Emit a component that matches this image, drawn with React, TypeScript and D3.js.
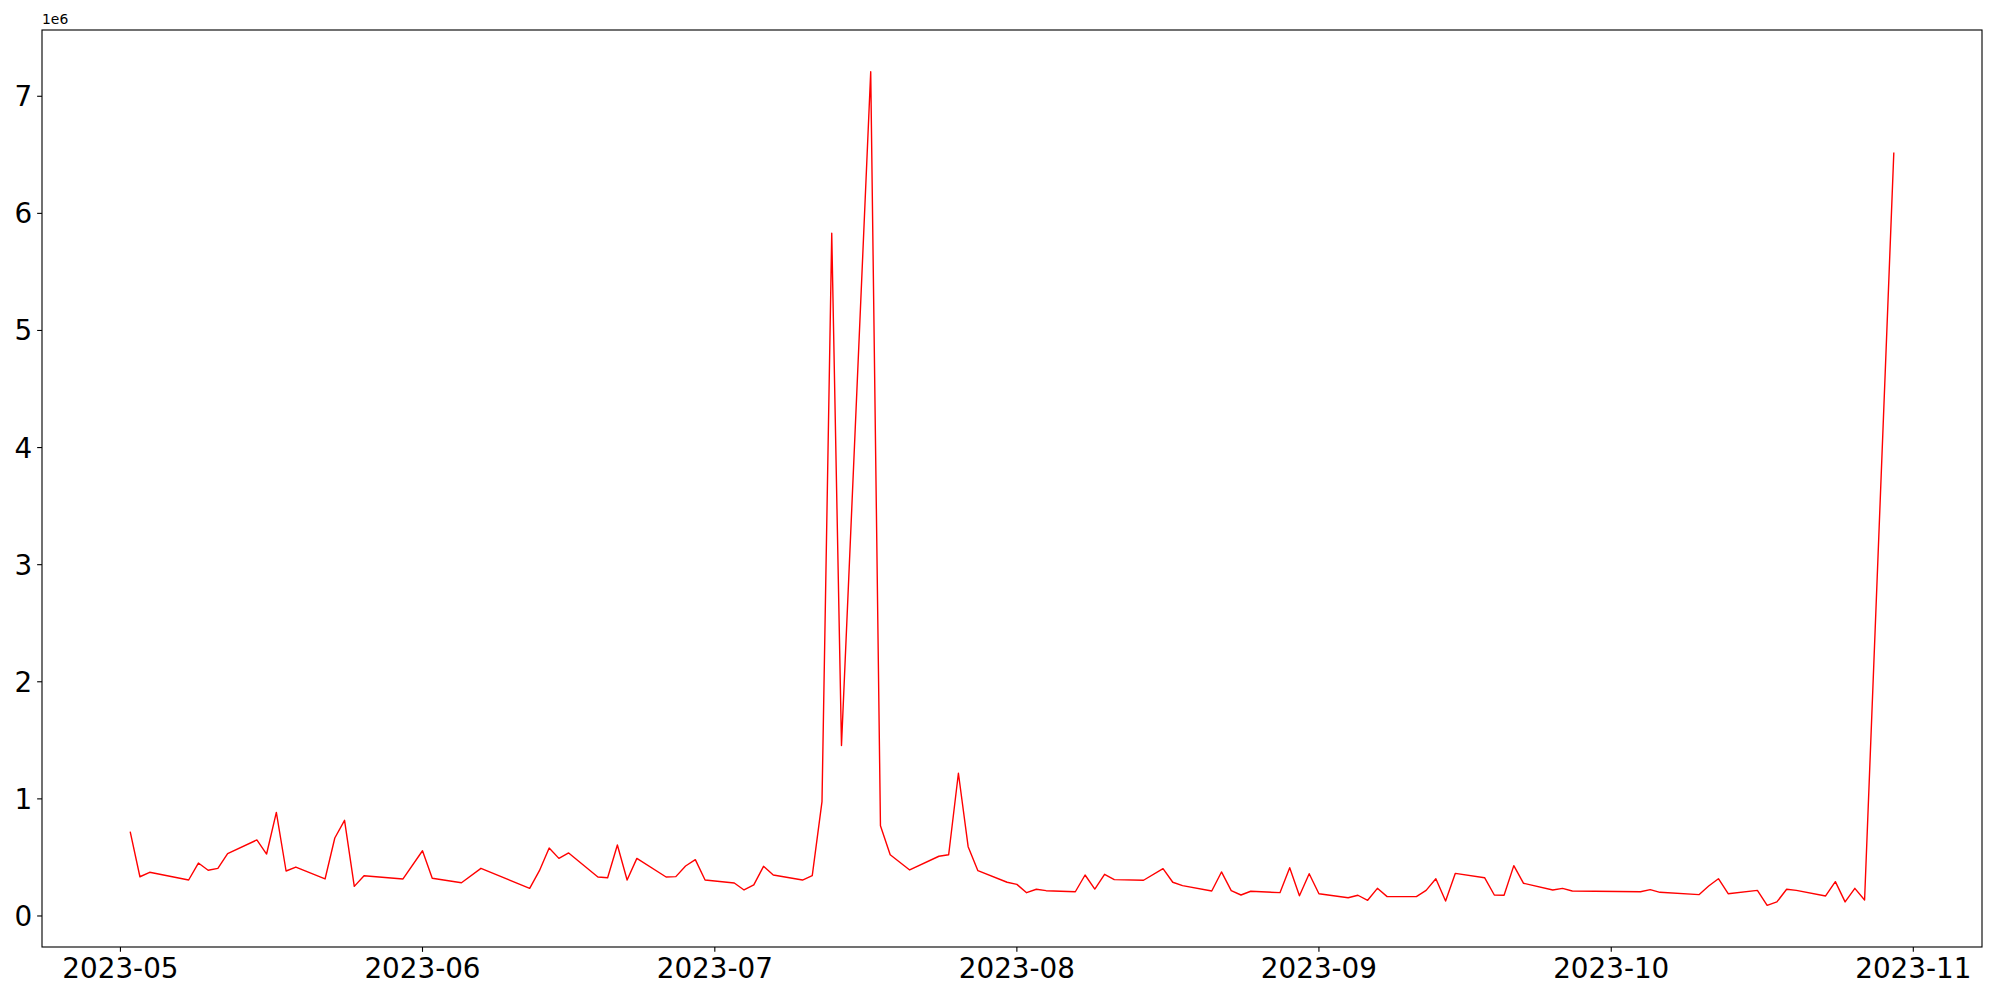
import React from "react";
import * as d3 from "d3";

const dates: string[] = [
  "2023-05-02","2023-05-03","2023-05-04","2023-05-08","2023-05-09","2023-05-10","2023-05-11","2023-05-12",
  "2023-05-15","2023-05-16","2023-05-17","2023-05-18","2023-05-19","2023-05-22","2023-05-23","2023-05-24",
  "2023-05-25","2023-05-26","2023-05-30","2023-06-01","2023-06-02","2023-06-05","2023-06-07","2023-06-12",
  "2023-06-13","2023-06-14","2023-06-15","2023-06-16","2023-06-19","2023-06-20","2023-06-21","2023-06-22",
  "2023-06-23","2023-06-26","2023-06-27","2023-06-28","2023-06-29","2023-06-30","2023-07-03","2023-07-04",
  "2023-07-05","2023-07-06","2023-07-07","2023-07-10","2023-07-11","2023-07-12","2023-07-13","2023-07-14",
  "2023-07-17","2023-07-18","2023-07-19","2023-07-21","2023-07-24","2023-07-25","2023-07-26","2023-07-27",
  "2023-07-28","2023-07-31","2023-08-01","2023-08-02","2023-08-03","2023-08-04","2023-08-07","2023-08-08",
  "2023-08-09","2023-08-10","2023-08-11","2023-08-14","2023-08-16","2023-08-17","2023-08-18","2023-08-21",
  "2023-08-22","2023-08-23","2023-08-24","2023-08-25","2023-08-28","2023-08-29","2023-08-30","2023-08-31",
  "2023-09-01","2023-09-04","2023-09-05","2023-09-06","2023-09-07","2023-09-08","2023-09-11","2023-09-12",
  "2023-09-13","2023-09-14","2023-09-15","2023-09-18","2023-09-19","2023-09-20","2023-09-21","2023-09-22",
  "2023-09-25","2023-09-26","2023-09-27","2023-10-04","2023-10-05","2023-10-06","2023-10-10","2023-10-11",
  "2023-10-12","2023-10-13","2023-10-16","2023-10-17","2023-10-18","2023-10-19","2023-10-20","2023-10-23",
  "2023-10-24","2023-10-25","2023-10-26","2023-10-27","2023-10-30",
];

// values in units of 1e6
const values: number[] = [
  0.72,0.335,0.373,0.307,0.452,0.39,0.407,0.532,
  0.649,0.529,0.885,0.384,0.418,0.316,0.666,0.817,
  0.253,0.344,0.316,0.557,0.322,0.284,0.407,0.236,
  0.387,0.58,0.492,0.538,0.333,0.327,0.606,0.307,
  0.492,0.333,0.336,0.427,0.481,0.307,0.282,0.222,
  0.265,0.424,0.35,0.307,0.344,0.976,5.83,1.455,
  7.21,0.771,0.523,0.393,0.51,0.523,1.219,0.592,
  0.387,0.288,0.27,0.199,0.228,0.216,0.207,0.35,
  0.23,0.356,0.31,0.305,0.404,0.288,0.259,0.213,
  0.376,0.216,0.179,0.211,0.199,0.412,0.173,0.361,
  0.19,0.156,0.177,0.134,0.236,0.165,0.165,0.219,
  0.318,0.128,0.364,0.327,0.179,0.177,0.43,0.279,
  0.222,0.236,0.213,0.207,0.225,0.202,0.182,0.256,
  0.318,0.19,0.219,0.091,0.12,0.228,0.219,0.171,
  0.293,0.12,0.236,0.137,6.52,
];

const yTicks: number[] = [0, 1, 2, 3, 4, 5, 6, 7];
const xTickLabels: string[] = ["2023-05","2023-06","2023-07","2023-08","2023-09","2023-10","2023-11"];

const W = 2000, H = 1000;
const L = 42, R = 1982, T = 30, B = 947;
const FONT = "DejaVu Sans, sans-serif";

export default function App() {
  const parse = d3.utcParse("%Y-%m-%d");
  const parseM = d3.utcParse("%Y-%m");
  const pts = dates.map((d, i) => ({ t: parse(d) as Date, v: values[i] * 1e6 }));
  const [t0, t1] = d3.extent(pts, (p) => p.t) as [Date, Date];
  const span = +t1 - +t0;
  const x = d3.scaleUtc().domain([new Date(+t0 - 0.05 * span), new Date(+t1 + 0.05 * span)]).range([L, R]);
  const [v0, v1] = d3.extent(pts, (p) => p.v) as [number, number];
  const vr = v1 - v0;
  const y = d3.scaleLinear().domain([v0 - 0.05 * vr, v1 + 0.05 * vr]).range([B, T]);
  const line = d3.line<{ t: Date; v: number }>().x((p) => x(p.t)).y((p) => y(p.v));
  const tickLen = 4.86;
  const fs = 27.8;

  return (
    <svg width={W} height={H} style={{ position: "absolute", left: 0, top: 0, background: "#fff" }}>
      <rect x={0} y={0} width={W} height={H} fill="#fff" />
      <path d={line(pts) || ""} fill="none" stroke="#ff0000" strokeWidth={1.4} strokeLinejoin="round" />
      <rect x={L} y={T} width={R - L} height={B - T} fill="none" stroke="#000" strokeWidth={1.11} />
      {yTicks.map((tv) => (
        <g key={"y" + tv}>
          <line x1={L - tickLen} x2={L} y1={y(tv * 1e6)} y2={y(tv * 1e6)} stroke="#000" strokeWidth={1.11} />
          <text x={L - tickLen - 4.86} y={y(tv * 1e6)} dy="0.36em" textAnchor="end" fontSize={fs} fontFamily={FONT} fill="#000">{tv}</text>
        </g>
      ))}
      {xTickLabels.map((lab) => {
        const xx = x(parseM(lab) as Date);
        return (
          <g key={lab}>
            <line x1={xx} x2={xx} y1={B} y2={B + tickLen} stroke="#000" strokeWidth={1.11} />
            <text x={xx} y={B + tickLen + 4.86} dy="0.76em" textAnchor="middle" fontSize={fs} fontFamily={FONT} fill="#000">{lab}</text>
          </g>
        );
      })}
      <text x={L} y={T - 6} fontSize={13.9} fontFamily={FONT} fill="#000">1e6</text>
    </svg>
  );
}
